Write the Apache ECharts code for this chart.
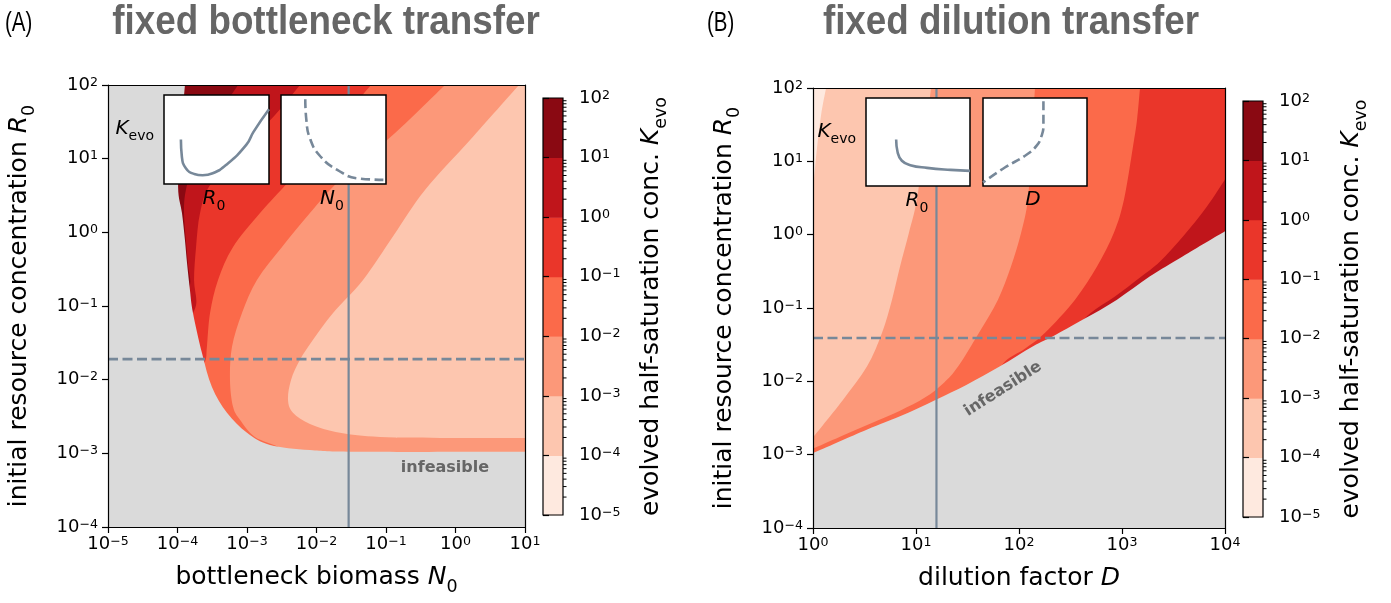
<!DOCTYPE html>
<html>
<head>
<meta charset="utf-8">
<script src="https://cdn.jsdelivr.net/npm/echarts@6.0.0/dist/echarts.min.js"></script>
<style>
html,body{margin:0;padding:0;background:#fff;}
#chart{width:1391px;height:603px;}
</style>
</head>
<body>
<div id="chart"></div>
<script>
// ================= values =================
const kLevels = [1e-5, 1e-4, 1e-3, 1e-2, 1e-1, 1, 10, 100];
const kColors = ['#fee9df', '#fdc6af', '#fc9879', '#fb6a4a', '#ea362a', '#c0151b', '#8a0912'];
const infeasibleColor = '#dadada';
const guideColor = '#778899';

const n0RangeA = [1e-5, 10];
const dRangeB = [1, 1e4];
const r0Range = [1e-4, 100];

// ---- panel A: fixed bottleneck transfer, points are [N0, R0] ----
const boundaryA = [[1.28e-4,100],[1.12e-4,21.0],[1.02e-4,4.13],[1.16e-4,1.83],[1.28e-4,0.789],[1.37e-4,0.385],[1.51e-4,0.165],[1.67e-4,0.0806],[2.25e-4,0.0231],[3.13e-4,7.98e-3],[5.15e-4,3.55e-3],[1.0e-3,1.90e-3],[2.14e-3,1.30e-3],[8.05e-3,1.11e-3],[0.0423,1.05e-3],[10,1.05e-3]];
const kA_10 = [[7.43e-4,100],[3.47e-4,33.5],[1.79e-4,9.6],[1.32e-4,3.76],[1.24e-4,1.83],[1.32e-4,0.789],[1.42e-4,0.361],[1.51e-4,0.193],[1.09e-4,0.121]];
const kA_1 = [[5.79e-3,100],[2.53e-3,39.2],[7.93e-4,13.1],[2.94e-4,4.40],[2.11e-4,1.83],[1.85e-4,0.634],[1.73e-4,0.226],[1.85e-4,0.1035],[1.32e-4,0.0554]];
const kA_01 = [[0.0608,100],[0.0156,22.3],[4.16e-3,5.14],[1.54e-3,1.83],[6.30e-4,0.634],[3.83e-4,0.226],[2.94e-4,0.0806],[2.65e-4,0.0279],[2.49e-4,0.0175],[1.79e-4,0.0116]];
const kA_001 = [[0.706,100],[0.135,22.3],[0.0218,5.14],[8.05e-3,1.83],[3.19e-3,0.634],[1.39e-3,0.226],[8.47e-4,0.0806],[6.08e-4,0.0279],[5.69e-4,9.93e-3],[6.30e-4,4.28e-3],[7.93e-4,2.85e-3],[1.30e-3,1.67e-3],[2.99e-3,1.19e-3],[4.16e-3,8.17e-4]];
const kA_0001 = [[8.20,100],[1.62,17.9],[0.364,3.76],[0.130,0.922],[0.0467,0.226],[0.0173,0.0806],[8.91e-3,0.0347],[5.79e-3,0.0186],[4.30e-3,9.93e-3],[3.89e-3,5.32e-3],[4.59e-3,3.55e-3],[8.05e-3,2.51e-3],[0.0218,1.90e-3],[0.0820,1.67e-3],[0.834,1.62e-3],[10,1.62e-3]];
const markerN0 = 0.029;
const markerR0A = 0.019;

// ---- panel B: fixed dilution transfer, points are [D, R0] ----
const boundaryB = [[1,1.05e-3],[3.32,2.19e-3],[6.99,3.33e-3],[15.6,5.62e-3],[31.1,9.0e-3],[65.4,0.0160],[137,0.030],[214,0.0411],[418,0.0695],[894,0.130],[1870,0.270],[3910,0.507],[1e4,1.11]];
const kB_1 = [[1e4,5.65],[6680,2.42],[3910,0.942],[2340,0.430],[1496,0.260],[855,0.143],[489,0.0839],[313,0.0434]];
const kB_01 = [[1496,100],[1400,37.2],[1279,15.9],[1046,3.01],[836,1.07],[572,0.367],[350,0.130],[179,0.0461],[114,0.0279],[73.1,0.0186],[52.3,9.0e-3]];
const kB_001 = [[143,100],[131,14.5],[122,3.01],[105,1.07],[83.6,0.367],[62.5,0.130],[40.9,0.0461],[25.6,0.0159],[18.7,9.6e-3],[12.2,6.0e-3],[7.0,3.98e-3],[3.58,2.65e-3],[1.83,1.76e-3],[1,1.21e-3]];
const kB_0001 = [[14.0,100],[12.2,19.8],[10.2,3.01],[8.55,1.07],[7.0,0.367],[5.85,0.130],[4.68,0.0461],[3.34,0.0159],[1.96,5.62e-3],[1.09,2.0e-3],[1,1.71e-3]];
const kB_00001 = [[1.34,100],[1.20,43.5],[1.09,14.5],[1,4.12]];
const markerD = 15.8;
const markerR0B = 0.039;

// ---- schematic insets (normalised 0..1 coordinates) ----
const insetA_R0 = [[0.161,0.499],[0.170,0.309],[0.208,0.177],[0.288,0.113],[0.368,0.099],[0.464,0.121],[0.593,0.215],[0.785,0.442],[0.851,0.583],[1.0,0.839]];
const insetA_N0 = [[0.231,0.952],[0.241,0.725],[0.280,0.499],[0.376,0.309],[0.536,0.159],[0.728,0.064],[1.0,0.046]];
const insetB_R0 = [[0.29,0.527],[0.304,0.383],[0.345,0.287],[0.426,0.237],[0.587,0.206],[0.813,0.183],[1.0,0.172]];
const insetB_D = [[0.581,0.962],[0.581,0.687],[0.564,0.573],[0.516,0.458],[0.404,0.344],[0.210,0.210],[0.0,0.039]];

const cbMinorMultipliers = [2,3,4,5,6,7,8,9];

// ================= helpers =================
const FONT = 'DejaVu Sans';
function expLabel(v) {
  const e = Math.round(Math.log10(v));
  return '{b|10}{s|' + (e < 0 ? '\u2212' + (-e) : String(e)) + '}';
}
const tickRich = {
  b: {fontSize: 18, fontFamily: FONT, color: '#000', lineHeight: 18, padding: [5,0,0,0], verticalAlign: 'bottom'},
  s: {fontSize: 12.6, fontFamily: FONT, color: '#000', lineHeight: 13, verticalAlign: 'top'}
};
const nameRich = {
  t: {fontSize: 25, fontFamily: FONT, color: '#000', lineHeight: 31, verticalAlign: 'top'},
  i: {fontSize: 25, fontFamily: FONT, fontStyle: 'italic', color: '#000', lineHeight: 31, verticalAlign: 'top'},
  sub: {fontSize: 17.5, fontFamily: FONT, color: '#000', lineHeight: 17, verticalAlign: 'bottom'}
};
const smallRich = {
  i: {fontSize: 20, fontFamily: FONT, fontStyle: 'italic', color: '#000', lineHeight: 24, verticalAlign: 'top'},
  sub: {fontSize: 14, fontFamily: FONT, color: '#000', lineHeight: 14, verticalAlign: 'bottom'}
};

function crPath(pts) {
  let d = 'M' + pts[0][0] + ' ' + pts[0][1];
  for (let i = 0; i < pts.length - 1; i++) {
    const p0 = pts[i - 1] || pts[i], p1 = pts[i], p2 = pts[i + 1], p3 = pts[i + 2] || pts[i + 1];
    const c1 = [p1[0] + (p2[0] - p0[0]) / 6, p1[1] + (p2[1] - p0[1]) / 6];
    const c2 = [p2[0] - (p3[0] - p1[0]) / 6, p2[1] - (p3[1] - p1[1]) / 6];
    d += ' C' + c1[0] + ' ' + c1[1] + ' ' + c2[0] + ' ' + c2[1] + ' ' + p2[0] + ' ' + p2[1];
  }
  return d;
}
function outside(r) { return [r[0] / 10, r[1] * 10]; }

function buildLayers(xr, side, contours, baseColor, boundary) {
  const xo = outside(xr), yo = outside(r0Range);
  const layers = [];
  layers.push({curve: [[xo[0], yo[1]]], close: [[xo[1], yo[1]], [xo[1], yo[0]], [xo[0], yo[0]]], color: baseColor});
  contours.forEach(c => {
    const f = c.curve[0], l = c.curve[c.curve.length - 1];
    const ex = side === 'right' ? xo[1] : xo[0];
    layers.push({curve: c.curve, close: [[l[0], yo[0]], [ex, yo[0]], [ex, yo[1]], [f[0], yo[1]]], color: c.color});
  });
  const f = boundary[0], l = boundary[boundary.length - 1];
  const close = side === 'right'
    ? [[xo[1], l[1]], [xo[1], yo[0]], [xo[0], yo[0]], [xo[0], yo[1]], [f[0], yo[1]]]
    : [[xo[1], l[1]], [xo[1], yo[0]], [xo[0], yo[0]], [xo[0], f[1]]];
  layers.push({curve: boundary, close: close, color: infeasibleColor});
  return layers;
}

const layersA = buildLayers(n0RangeA, 'right', [
  {curve: kA_10, color: kColors[5]},
  {curve: kA_1, color: kColors[4]},
  {curve: kA_01, color: kColors[3]},
  {curve: kA_001, color: kColors[2]},
  {curve: kA_0001, color: kColors[1]}
], kColors[6], boundaryA);

const layersB = buildLayers(dRangeB, 'left', [
  {curve: kB_1, color: kColors[4]},
  {curve: kB_01, color: kColors[3]},
  {curve: kB_001, color: kColors[2]},
  {curve: kB_0001, color: kColors[1]},
  {curve: kB_00001, color: kColors[0]}
], kColors[5], boundaryB);

function regionSeries(layers, xi, yi, probe) {
  return {
    type: 'custom', xAxisIndex: xi, yAxisIndex: yi, clip: true, z: 1, silent: true,
    data: layers.map(() => probe),
    renderItem: function (params, api) {
      const L = layers[params.dataIndex];
      const c = L.curve.map(p => api.coord(p));
      let d = crPath(c);
      L.close.forEach(p => { const q = api.coord(p); d += ' L' + q[0] + ' ' + q[1]; });
      d += ' Z';
      return {type: 'path', shape: {pathData: d}, style: {fill: L.color, stroke: null}};
    }
  };
}

function colorbarSeries(xi, yi) {
  return [{
    type: 'custom', xAxisIndex: xi, yAxisIndex: yi, z: 2, silent: true,
    data: kColors.map((c, i) => [0.5, kLevels[i]]),
    renderItem: function (params, api) {
      const i = params.dataIndex;
      const a = api.coord([0, kLevels[i + 1]]), b = api.coord([1, kLevels[i]]);
      return {type: 'rect', shape: {x: a[0], y: a[1], width: b[0] - a[0], height: b[1] - a[1] + 0.5}, style: {fill: kColors[i]}};
    }
  }, {
    type: 'custom', xAxisIndex: xi, yAxisIndex: yi, z: 3, silent: true,
    data: [[0.5, 1]],
    renderItem: function (params, api) {
      const a = api.coord([0, kLevels[kLevels.length - 1]]), b = api.coord([1, kLevels[0]]);
      const children = [{type: 'rect', shape: {x: a[0], y: a[1], width: b[0] - a[0], height: b[1] - a[1]}, style: {fill: 'none', stroke: '#000', lineWidth: 1.2}}];
      for (let e = Math.log10(kLevels[0]); e < Math.log10(kLevels[kLevels.length - 1]); e++) {
        cbMinorMultipliers.forEach(m => {
          const p = api.coord([1, m * Math.pow(10, e)]);
          children.push({type: 'line', shape: {x1: p[0], y1: p[1], x2: p[0] + 3.5, y2: p[1]}, style: {stroke: '#000', lineWidth: 1}});
        });
      }
      return {type: 'group', children: children};
    }
  }];
}

function mainX(grid, range, name, pos) {
  const ax = {type: 'log', logBase: 10, gridIndex: grid, min: range[0], max: range[1], position: pos, z: 10,
    axisLine: {show: true, onZero: false, lineStyle: {color: '#000', width: 1.2}},
    splitLine: {show: false}, minorTick: {show: false}, minorSplitLine: {show: false}};
  if (name) {
    ax.axisTick = {show: true, length: 6, lineStyle: {color: '#000', width: 1.2}};
    ax.axisLabel = {show: true, formatter: expLabel, rich: tickRich, margin: 8, showMinLabel: true, showMaxLabel: true};
    ax.name = name; ax.nameLocation = 'middle'; ax.nameGap = 38; ax.nameTextStyle = {rich: nameRich};
  } else {
    ax.axisTick = {show: false}; ax.axisLabel = {show: false};
  }
  return ax;
}
function mainY(grid, name, pos) {
  const ax = {type: 'log', logBase: 10, gridIndex: grid, min: r0Range[0], max: r0Range[1], position: pos, z: 10,
    axisLine: {show: true, onZero: false, lineStyle: {color: '#000', width: 1.2}},
    splitLine: {show: false}, minorTick: {show: false}, minorSplitLine: {show: false}};
  if (name) {
    ax.axisTick = {show: true, length: 6, lineStyle: {color: '#000', width: 1.2}};
    ax.axisLabel = {show: true, formatter: expLabel, rich: tickRich, margin: 10, showMinLabel: true, showMaxLabel: true};
    ax.name = name; ax.nameLocation = 'middle'; ax.nameGap = 70; ax.nameRotate = 90; ax.nameTextStyle = {rich: nameRich};
  } else {
    ax.axisTick = {show: false}; ax.axisLabel = {show: false};
  }
  return ax;
}
function cbY(grid) {
  return {type: 'log', logBase: 10, gridIndex: grid, min: kLevels[0], max: kLevels[kLevels.length - 1], position: 'right', z: 10,
    axisLine: {show: false}, splitLine: {show: false}, minorTick: {show: false},
    axisTick: {show: true, length: 6, lineStyle: {color: '#000', width: 1.2}},
    axisLabel: {show: true, formatter: expLabel, rich: tickRich, margin: 16, showMinLabel: true, showMaxLabel: true},
    name: '{t|evolved half-saturation conc. }{i|K}{sub|evo}', nameLocation: 'middle', nameGap: 76, nameRotate: 90,
    nameTextStyle: {rich: nameRich}};
}
const hiddenV = g => ({type: 'value', gridIndex: g, min: 0, max: 1, show: false});
const insetGrid = (l, t, w, h) => ({left: l, top: t, width: w, height: h, show: true, backgroundColor: '#fff', borderColor: '#000', borderWidth: 1.5, z: 20});

function guideLines(xi, yi, xv, yv, xr) {
  return [{
    type: 'line', xAxisIndex: xi, yAxisIndex: yi, z: 5, silent: true, symbol: 'none',
    data: [[xv, r0Range[0]], [xv, r0Range[1]]], lineStyle: {color: guideColor, width: 2.2}
  }, {
    type: 'line', xAxisIndex: xi, yAxisIndex: yi, z: 5, silent: true, symbol: 'none',
    data: [[xr[0], yv], [xr[1], yv]], lineStyle: {color: guideColor, width: 2.6, type: [10, 4.5]}
  }];
}
function insetLine(idx, data, dashed) {
  return {type: 'line', xAxisIndex: idx, yAxisIndex: idx, z: 22, silent: true, symbol: 'none', smooth: 0.5,
    data: data, lineStyle: {color: guideColor, width: 2.6, type: dashed ? [9, 4.5] : 'solid'}};
}

function txt(x, y, text, rich, align, extra) {
  return Object.assign({type: 'text', x: x, y: y, z: 30, silent: true,
    style: {text: text, rich: rich, align: align || 'center', verticalAlign: 'middle'}}, extra || {});
}
const titleStyle = {fontSize: 40, fontWeight: 'bold', fontFamily: '"Liberation Sans", Arial', fill: '#666666'};
const letterStyle = {fontSize: 27, fontFamily: '"Liberation Sans", Arial', fill: '#000'};
const infeasStyle = {fontSize: 16, fontWeight: 'bold', fontFamily: FONT, fill: '#666666'};

const option = {
  animation: false,
  backgroundColor: '#fff',
  textStyle: {fontFamily: FONT},
  grid: [
    {left: 108, top: 85, width: 417, height: 442},
    {left: 543, top: 98, width: 20, height: 417},
    {left: 813, top: 88, width: 412, height: 440},
    {left: 1243, top: 101, width: 20, height: 416},
    insetGrid(164, 95, 105, 89),
    insetGrid(281, 95, 105, 89),
    insetGrid(866, 98, 104, 88),
    insetGrid(983, 98, 104, 88)
  ],
  xAxis: [
    mainX(0, n0RangeA, '{t|bottleneck biomass }{i|N}{sub|0}', 'bottom'),
    mainX(0, n0RangeA, null, 'top'),
    hiddenV(1),
    mainX(2, dRangeB, '{t|dilution factor }{i|D}', 'bottom'),
    mainX(2, dRangeB, null, 'top'),
    hiddenV(3),
    hiddenV(4), hiddenV(5), hiddenV(6), hiddenV(7)
  ],
  yAxis: [
    mainY(0, '{t|initial resource concentration }{i|R}{sub|0}', 'left'),
    mainY(0, null, 'right'),
    cbY(1),
    mainY(2, '{t|initial resource concentration }{i|R}{sub|0}', 'left'),
    mainY(2, null, 'right'),
    cbY(3),
    hiddenV(4), hiddenV(5), hiddenV(6), hiddenV(7)
  ],
  series: [
    regionSeries(layersA, 0, 0, [1, 1]),
    ...guideLines(0, 0, markerN0, markerR0A, n0RangeA),
    ...colorbarSeries(2, 2),
    regionSeries(layersB, 3, 3, [10, 1]),
    ...guideLines(3, 3, markerD, markerR0B, dRangeB),
    ...colorbarSeries(5, 5),
    insetLine(6, insetA_R0, false),
    insetLine(7, insetA_N0, true),
    insetLine(8, insetB_R0, false),
    insetLine(9, insetB_D, true)
  ],
  graphic: [
    {type: 'text', x: 5, y: 10, scaleX: 0.76, z: 30, silent: true, style: Object.assign({text: '(A)'}, letterStyle)},
    {type: 'text', x: 707, y: 10, scaleX: 0.76, z: 30, silent: true, style: Object.assign({text: '(B)'}, letterStyle)},
    {type: 'text', x: 326, y: 3, scaleX: 0.92, z: 30, silent: true, style: Object.assign({text: 'fixed bottleneck transfer', align: 'center'}, titleStyle)},
    {type: 'text', x: 1011, y: 3, scaleX: 0.92, z: 30, silent: true, style: Object.assign({text: 'fixed dilution transfer', align: 'center'}, titleStyle)},
    txt(154, 131, '{i|K}{sub|evo}', smallRich, 'right'),
    txt(214, 201, '{i|R}{sub|0}', smallRich),
    txt(332, 201, '{i|N}{sub|0}', smallRich),
    txt(856, 134, '{i|K}{sub|evo}', smallRich, 'right'),
    txt(917, 203, '{i|R}{sub|0}', smallRich),
    txt(1033, 202, '{i|D}', smallRich),
    {type: 'text', x: 445, y: 468, z: 30, silent: true, style: Object.assign({text: 'infeasible', align: 'center', verticalAlign: 'middle'}, infeasStyle)},
    {type: 'text', x: 1003, y: 389, rotation: 32.5 * Math.PI / 180, z: 30, silent: true, style: Object.assign({text: 'infeasible', align: 'center', verticalAlign: 'middle'}, infeasStyle)}
  ]
};

const chart = echarts.init(document.getElementById('chart'), null, {renderer: 'canvas'});
chart.setOption(option);
</script>
</body>
</html>
